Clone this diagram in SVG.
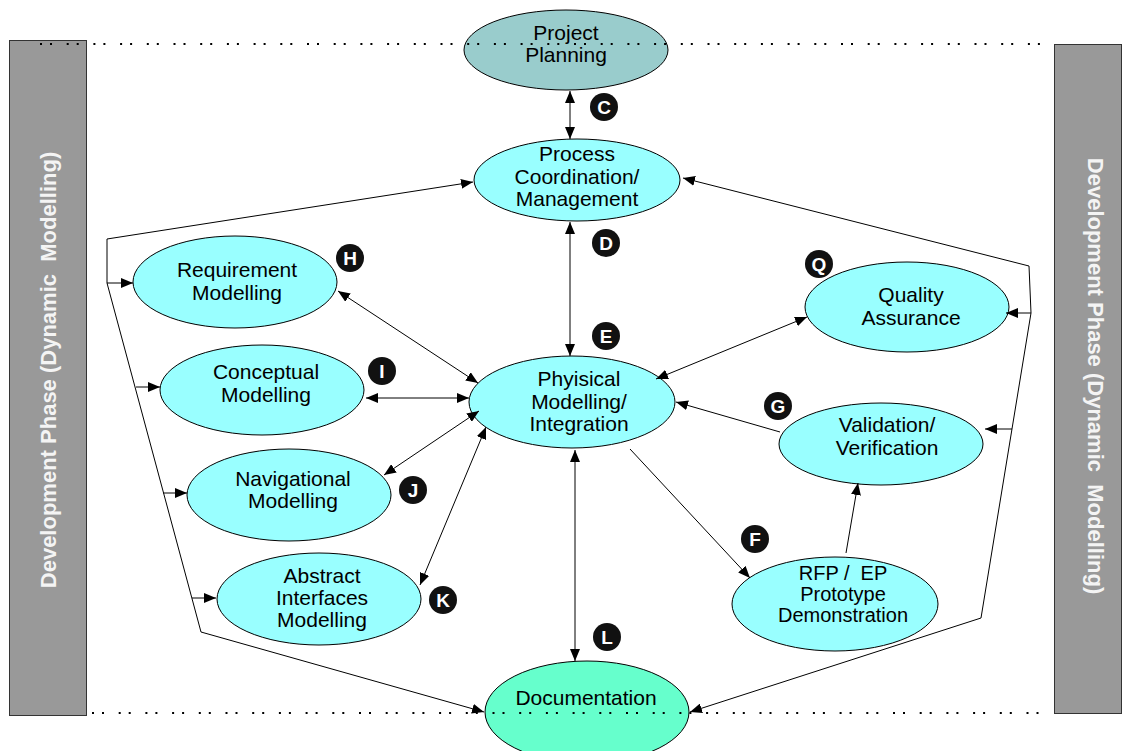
<svg xmlns="http://www.w3.org/2000/svg" width="1123" height="751" viewBox="0 0 1123 751">
<defs>
<marker id="ah" viewBox="0 0 12 10" refX="12" refY="5" markerWidth="12" markerHeight="10" markerUnits="userSpaceOnUse" orient="auto-start-reverse">
<path d="M0,0 L12,5 L0,10 z" fill="#000"/>
</marker>
<style>
.bg{fill:#fff}
.side{fill:#999999;stroke:#333;stroke-width:1}
.sidetxt{font-family:"Liberation Sans",Arial,sans-serif;font-weight:bold;font-size:22px;fill:#f4f4f4;text-anchor:middle;white-space:pre}
.dots{stroke:#000;stroke-width:2;stroke-dasharray:2 8 2 14.7;fill:none}
.el{stroke:#000;stroke-width:1}
.cyan{fill:#99FFFF}
.lbl{font-family:"Liberation Sans",Arial,sans-serif;font-size:21px;fill:#000;text-anchor:middle;white-space:pre}
.sm{font-size:20px}
.ln{stroke:#000;stroke-width:1;fill:none}
.bd circle{fill:#111}
.bd text{font-family:"Liberation Sans Narrow","Liberation Sans",sans-serif;font-weight:bold;font-size:19px;fill:#fff;text-anchor:middle}
</style>
</defs>
<rect class="bg" x="0" y="0" width="1123" height="751"/>

<g id="phase-left">
<rect class="side" x="9.5" y="40.5" width="77" height="675"/>
<text class="sidetxt" transform="translate(56,370) rotate(-90)">Development Phase (Dynamic  Modelling)</text>
</g>
<g id="phase-right">
<rect class="side" x="1054.5" y="44.5" width="67" height="669"/>
<text class="sidetxt" transform="translate(1088,376) rotate(90)">Development Phase (Dynamic  Modelling)</text>
</g>

<g id="project-planning">
<ellipse class="el" cx="566" cy="50" rx="102" ry="40" fill="#99CCCC"/>
<text class="lbl" x="566" y="40">Project</text>
<text class="lbl" x="566" y="62">Planning</text>
</g>
<g id="process-coordination">
<ellipse class="el cyan" cx="577" cy="180" rx="103" ry="41"/>
<text class="lbl" x="577" y="161">Process</text>
<text class="lbl" x="577" y="184">Coordination/</text>
<text class="lbl" x="577" y="206">Management</text>
</g>
<g id="requirement-modelling">
<ellipse class="el cyan" cx="235" cy="282" rx="102" ry="46"/>
<text class="lbl" x="237" y="277">Requirement</text>
<text class="lbl" x="237" y="300">Modelling</text>
</g>
<g id="conceptual-modelling">
<ellipse class="el cyan" cx="262" cy="390" rx="102" ry="45"/>
<text class="lbl" x="266" y="379">Conceptual</text>
<text class="lbl" x="266" y="402">Modelling</text>
</g>
<g id="navigational-modelling">
<ellipse class="el cyan" cx="289" cy="495" rx="102" ry="46"/>
<text class="lbl" x="293" y="486">Navigational</text>
<text class="lbl" x="293" y="508">Modelling</text>
</g>
<g id="abstract-interfaces-modelling">
<ellipse class="el cyan" cx="319" cy="599" rx="102" ry="46"/>
<text class="lbl" x="322" y="583">Abstract</text>
<text class="lbl" x="322" y="605">Interfaces</text>
<text class="lbl" x="322" y="627">Modelling</text>
</g>
<g id="physical-modelling">
<ellipse class="el cyan" cx="572" cy="402" rx="103" ry="46"/>
<text class="lbl" x="579" y="386">Phyisical</text>
<text class="lbl" x="579" y="409">Modelling/</text>
<text class="lbl" x="579" y="431">Integration</text>
</g>
<g id="quality-assurance">
<ellipse class="el cyan" cx="907" cy="307" rx="102" ry="45"/>
<text class="lbl" x="911" y="302">Quality</text>
<text class="lbl" x="911" y="325">Assurance</text>
</g>
<g id="validation-verification">
<ellipse class="el cyan" cx="881" cy="444" rx="102" ry="41"/>
<text class="lbl" x="887" y="432">Validation/</text>
<text class="lbl" x="887" y="455">Verification</text>
</g>
<g id="rfp-prototype">
<ellipse class="el cyan" cx="835" cy="604" rx="103" ry="47"/>
<text class="lbl sm" x="843" y="580">RFP /  EP</text>
<text class="lbl sm" x="843" y="601">Prototype</text>
<text class="lbl sm" x="843" y="622">Demonstration</text>
</g>
<g id="documentation">
<ellipse class="el" cx="587" cy="712" rx="102" ry="51" fill="#66FFCC"/>
<text class="lbl" x="586" y="705">Documentation</text>
</g>

<g id="connectors">
<line class="ln" x1="570" y1="91" x2="570" y2="139" marker-start="url(#ah)" marker-end="url(#ah)"/>
<line class="ln" x1="570" y1="222" x2="570" y2="356" marker-start="url(#ah)" marker-end="url(#ah)"/>
<line class="ln" x1="575" y1="450" x2="575" y2="661" marker-start="url(#ah)" marker-end="url(#ah)"/>
<line class="ln" x1="338" y1="291" x2="478" y2="383" marker-start="url(#ah)" marker-end="url(#ah)"/>
<line class="ln" x1="366" y1="398" x2="469" y2="398" marker-start="url(#ah)" marker-end="url(#ah)"/>
<line class="ln" x1="384" y1="475" x2="479" y2="411" marker-start="url(#ah)" marker-end="url(#ah)"/>
<line class="ln" x1="420" y1="585" x2="486" y2="427" marker-start="url(#ah)" marker-end="url(#ah)"/>
<line class="ln" x1="807" y1="317" x2="656" y2="379" marker-start="url(#ah)" marker-end="url(#ah)"/>
<line class="ln" x1="780" y1="432" x2="676" y2="402" marker-end="url(#ah)"/>
<line class="ln" x1="630" y1="449" x2="750" y2="578" marker-end="url(#ah)"/>
<line class="ln" x1="846" y1="553" x2="858" y2="483" marker-end="url(#ah)"/>
<polyline class="ln" points="107,283 107,239 473,182" marker-end="url(#ah)"/>
<polyline class="ln" points="107,283 201,632 484,712" marker-end="url(#ah)"/>
<line class="ln" x1="107" y1="283" x2="133" y2="283" marker-end="url(#ah)"/>
<line class="ln" x1="136" y1="387" x2="160" y2="387" marker-end="url(#ah)"/>
<line class="ln" x1="163" y1="493" x2="187" y2="493" marker-end="url(#ah)"/>
<line class="ln" x1="192" y1="598" x2="216" y2="598" marker-end="url(#ah)"/>
<polyline class="ln" points="1031,313 1029,266 683,178" marker-end="url(#ah)"/>
<polyline class="ln" points="1031,313 981,618 690,712" marker-end="url(#ah)"/>
<line class="ln" x1="1031" y1="313" x2="1006" y2="313" marker-end="url(#ah)"/>
<line class="ln" x1="1012" y1="429" x2="985" y2="429" marker-end="url(#ah)"/>
</g>

<g id="dotted-lines">
<line class="dots" x1="40" y1="44" x2="1050" y2="44"/>
<line class="dots" x1="92" y1="713" x2="1050" y2="713"/>
</g>

<g id="badges" class="bd">
<g id="badge-c"><circle cx="604" cy="107" r="14"/><text x="604" y="114">C</text></g>
<g id="badge-d"><circle cx="606" cy="243" r="14"/><text x="606" y="250">D</text></g>
<g id="badge-e"><circle cx="606" cy="336" r="14"/><text x="606" y="343">E</text></g>
<g id="badge-h"><circle cx="350" cy="258" r="14"/><text x="350" y="265">H</text></g>
<g id="badge-i"><circle cx="382" cy="371" r="14"/><text x="382" y="378">I</text></g>
<g id="badge-j"><circle cx="413" cy="490" r="14"/><text x="413" y="497">J</text></g>
<g id="badge-k"><circle cx="443" cy="600" r="14"/><text x="443" y="607">K</text></g>
<g id="badge-l"><circle cx="607" cy="637" r="14"/><text x="607" y="644">L</text></g>
<g id="badge-f"><circle cx="755" cy="539" r="14"/><text x="755" y="546">F</text></g>
<g id="badge-g"><circle cx="778" cy="406" r="14"/><text x="778" y="413">G</text></g>
<g id="badge-q"><circle cx="819" cy="264" r="14"/><text x="819" y="271">Q</text></g>
</g>
</svg>
